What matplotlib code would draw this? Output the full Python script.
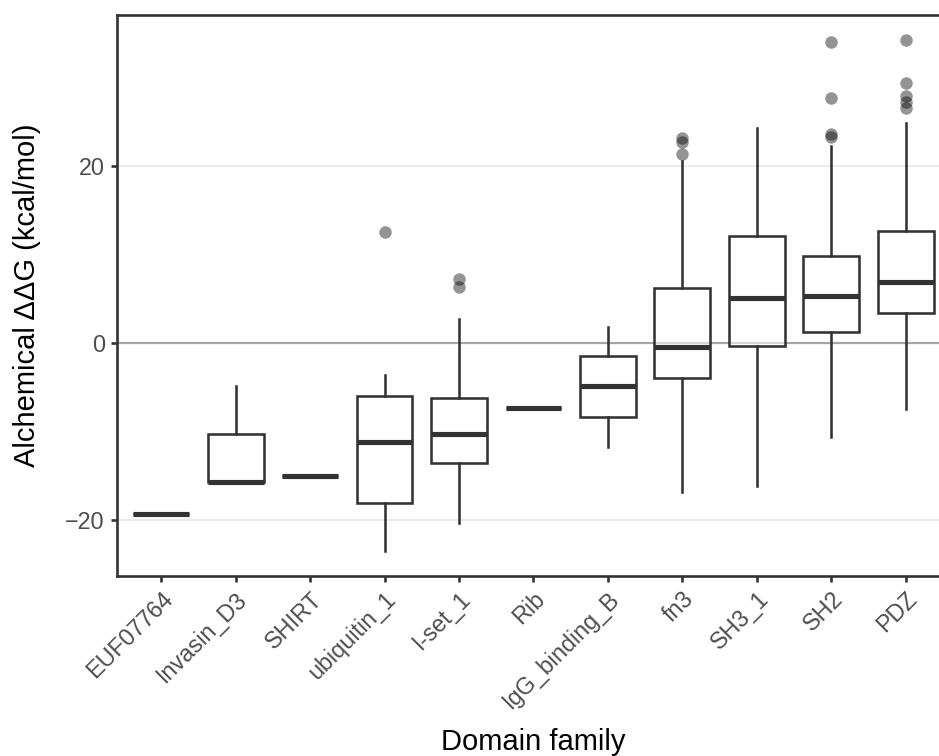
import matplotlib
matplotlib.use("Agg")
import matplotlib.pyplot as plt

plt.rcParams['font.family'] = ['Liberation Sans', 'DejaVu Sans']

families = ["EUF07764", "Invasin_D3", "SHIRT", "ubiquitin_1", "I-set_1", "Rib",
            "IgG_binding_B", "fn3", "SH3_1", "SH2", "PDZ"]

# five-number summaries per domain family (kcal/mol)
medians = [-19.36, -15.74, -15.03, -11.22, -10.24, -7.31, -4.86, -0.49, 5.05, 5.31, 6.93]
q1 = [-19.36, -15.74, -15.03, -18.11, -13.56, -7.31, -8.32, -3.95, -0.34, 1.21, 3.35]
q3 = [-19.36, -10.28, -15.03, -5.95, -6.18, -7.31, -1.47, 6.18, 12.09, 9.87, 12.66]
whisker_lo = [-19.36, -15.74, -15.03, -23.47, -20.34, -7.31, -11.71, -16.87, -16.12, -10.58, -7.49]
whisker_hi = [-19.36, -4.86, -15.03, -3.62, 2.67, -7.31, 1.84, 20.56, 24.26, 22.30, 24.90]
outliers = [
    [], [], [], [12.51], [7.19, 6.29], [], [],
    [23.20, 22.75, 21.39],
    [],
    [34.00, 27.65, 23.58, 23.31],
    [34.20, 29.40, 27.90, 27.27, 26.50],
]

y_ticks = [-20, 0, 20]

fig = plt.figure(figsize=(9.39, 7.56), dpi=100)
W, H = 939, 756
left_px, right_px, top_px, bottom_px = 116.5, 950.4, 15, 576
ax = fig.add_axes([left_px / W, 1 - bottom_px / H,
                   (right_px - left_px) / W, (bottom_px - top_px) / H])

dark = "#333333"
stats = []
for i, name in enumerate(families):
    stats.append(dict(label=name, med=medians[i], q1=q1[i], q3=q3[i],
                      whislo=whisker_lo[i], whishi=whisker_hi[i],
                      fliers=outliers[i]))

positions = list(range(1, len(families) + 1))
ax.bxp(stats, positions=positions, widths=0.75, showcaps=False, patch_artist=True,
       boxprops=dict(facecolor=(1, 1, 1, 0.55), edgecolor=dark, linewidth=1.85),
       whiskerprops=dict(color=dark, linewidth=1.85),
       medianprops=dict(color=dark, linewidth=3.7, solid_capstyle='butt'),
       flierprops=dict(marker='o', markersize=9, markerfacecolor=(0, 0, 0, 0.42),
                       markeredgecolor='none', linestyle='none'),
       zorder=3)

# reference lines
for v in (-20, 20):
    ax.axhline(v, color="#EBEBEB", linewidth=1.5, zorder=0)
ax.axhline(0, color="#A6A6A6", linewidth=1.6, zorder=1)

ax.set_xlim(0.4, len(families) + 0.6)
ax.set_ylim(-26.33, 37.06)
ax.set_yticks(y_ticks)
ax.set_yticklabels([str(t).replace("-", "\u2212") for t in y_ticks])
ax.set_xticks(positions)
ax.set_xticklabels(families, rotation=45, ha='right', va='top', rotation_mode='anchor')

for side in ('left', 'bottom', 'top'):
    ax.spines[side].set_color(dark)
    ax.spines[side].set_linewidth(1.9)
ax.spines['right'].set_visible(False)
ax.tick_params(axis='both', length=4.3, width=1.9, color=dark,
               labelsize=16.8, labelcolor="#4D4D4D", pad=4)

ax.set_xlabel("Domain family", fontsize=21, color="black")
ax.set_ylabel("Alchemical \u0394\u0394G (kcal/mol)", fontsize=21, color="black")
ax.xaxis.set_label_coords(0.5, -(728 - bottom_px) / (bottom_px - top_px))
ax.xaxis.label.set_va('top')
ax.yaxis.set_label_coords(-(116.5 - 27) / (right_px - left_px), 0.5)
ax.yaxis.label.set_va('center')

fig.savefig("out.png", dpi=100)
